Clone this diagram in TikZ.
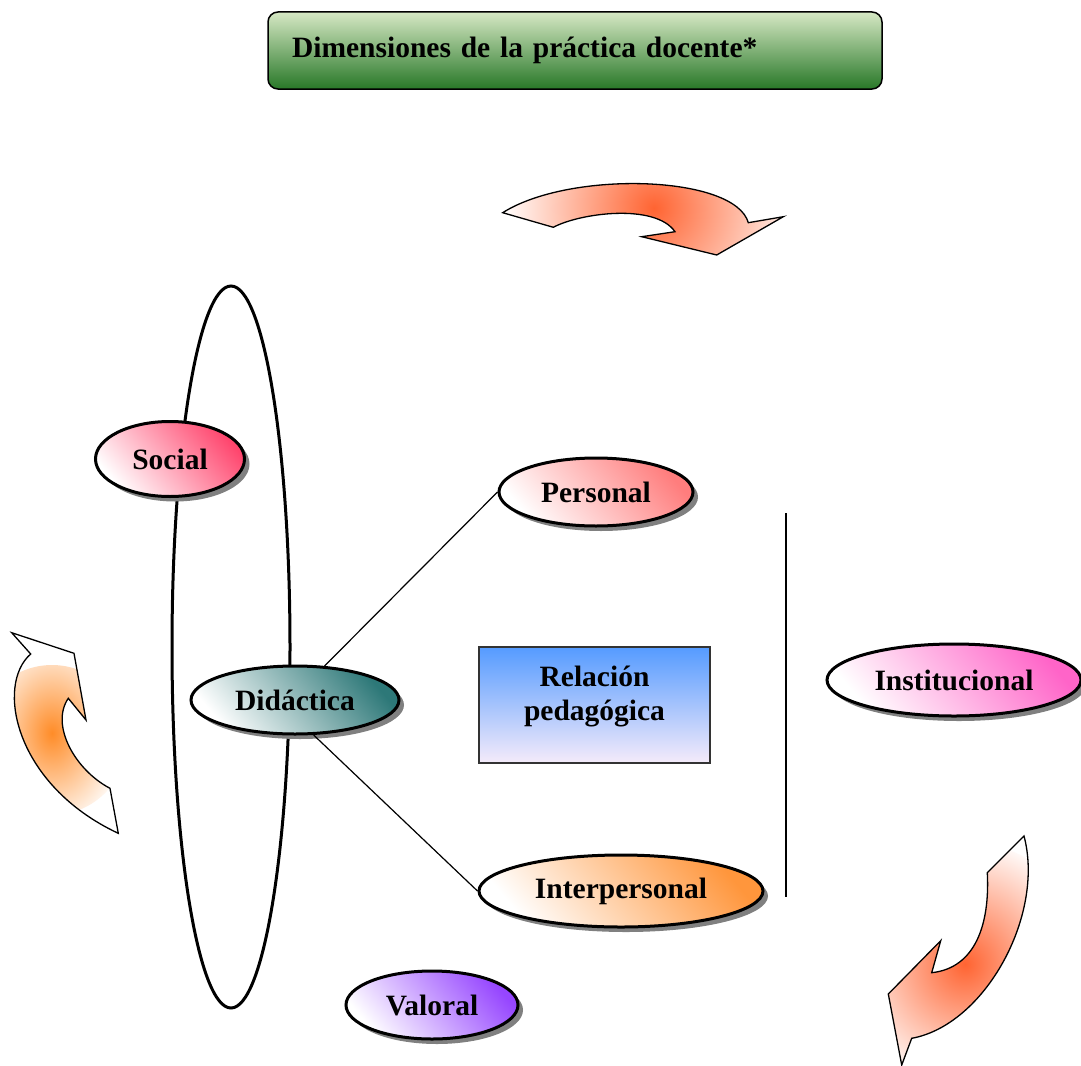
\documentclass[tikz,border=0pt]{standalone}
\usepackage{fontspec}
\setmainfont{Liberation Serif}
\usetikzlibrary{shapes.geometric,shadows}
\definecolor{socialred}{RGB}{255,70,110}
\definecolor{personalred}{RGB}{255,125,125}
\definecolor{didteal}{RGB}{45,120,120}
\definecolor{interorange}{RGB}{255,150,60}
\definecolor{instpink}{RGB}{255,100,200}
\definecolor{valpurple}{RGB}{150,70,255}
\definecolor{bannertop}{RGB}{214,232,196}
\definecolor{bannerbot}{RGB}{40,120,40}
\definecolor{reltop}{RGB}{85,155,255}
\definecolor{relbot}{RGB}{245,235,250}
\definecolor{flowred}{RGB}{255,100,50}
\definecolor{floworange}{RGB}{255,140,40}
\tikzset{
  txt/.style={font=\bfseries\fontsize{29.5}{34}\selectfont},
  dim/.style={ellipse, draw, line width=3pt, inner sep=0pt, txt,
    top color=#1, bottom color=white, shading angle=-50,
    drop shadow={shadow xshift=5pt, shadow yshift=-5pt, fill=black!50, opacity=1}},
  flow/.style={draw, line width=1.3pt, fill=white},
  link/.style={line width=1.2pt}
}
\begin{document}
\begin{tikzpicture}[x=1pt,y=-1pt]
  \useasboundingbox (0,0) rectangle (1081,1065);
  % title
  \node[draw, line width=1.5pt, rounded corners=10pt, txt, align=left,
    text width=566pt, inner xsep=24pt, minimum height=77pt,
    top color=bannertop, bottom color=bannerbot] (title) at (575,50.5)
    {Dimensiones de la práctica docente*};
  % curved arrows
  \draw[flow, path picture={\shade[inner color=flowred, outer color=white] (655,208) circle (150);}]
    (502.7,212.7) -- (553.3,227.3) .. controls (580,213) and (655,203) .. (675,231.7)
    -- (641.7,236.7) -- (716.7,255) -- (783.3,216.7) -- (748.3,222.7)
    .. controls (735,175) and (570,170) .. (502.7,212.7) -- cycle;
  \draw[flow, path picture={\shade[inner color=floworange, outer color=white] (52,740) circle (75);}]
    (11.7,632.7) -- (30.7,654) .. controls (-5,685) and (15,785) .. (118.3,833.3)
    -- (110,788.3) .. controls (75,770) and (50,725) .. (68.3,698.3)
    -- (86,720) -- (74,653.3) -- cycle;
  \draw[flow, path picture={\shade[inner color=flowred, outer color=white] (965,967) circle (125);}]
    (1024,836) -- (987.3,872.7) .. controls (990,925) and (975,968) .. (931.7,972.7)
    -- (940.7,940.7) -- (888.3,994) -- (901.7,1065) -- (911.7,1038.3)
    .. controls (985,1025) and (1045,915) .. (1024,836) -- cycle;
  % dimensions
  \node[ellipse, draw, line width=3pt, minimum width=118pt, minimum height=722pt] (ring) at (231,647) {};
  \node[dim=socialred, minimum width=149pt, minimum height=75pt] (soc) at (170,459) {Social};
  \node[dim=personalred, minimum width=194pt, minimum height=68pt] (per) at (596,492) {Personal};
  \node[dim=didteal, minimum width=208pt, minimum height=68pt] (did) at (295,700) {Didáctica};
  \node[dim=interorange, minimum width=284pt, minimum height=72pt] (inter) at (621,891) {Interpersonal};
  \node[dim=instpink, minimum width=254pt, minimum height=72pt] (inst) at (954,680) {Institucional};
  \node[dim=valpurple, minimum width=172pt, minimum height=68pt] (val) at (432,1005) {Valoral};
  \node[draw=black!80, line width=1.5pt, txt, align=center, minimum width=231pt, minimum height=116pt,
    top color=reltop, bottom color=relbot] (rel) at (594.5,705)
    {Relación\\pedagógica\\[-10pt]\mbox{}};
  % links
  \draw[link] (did.49) -- (per.west);
  \draw[link] (did.-62) -- (inter.west);
  \coordinate (vtop) at (786,513);
  \coordinate (vbot) at (786,897);
  \draw[link] (vtop) -- (vbot);
\end{tikzpicture}
\end{document}
